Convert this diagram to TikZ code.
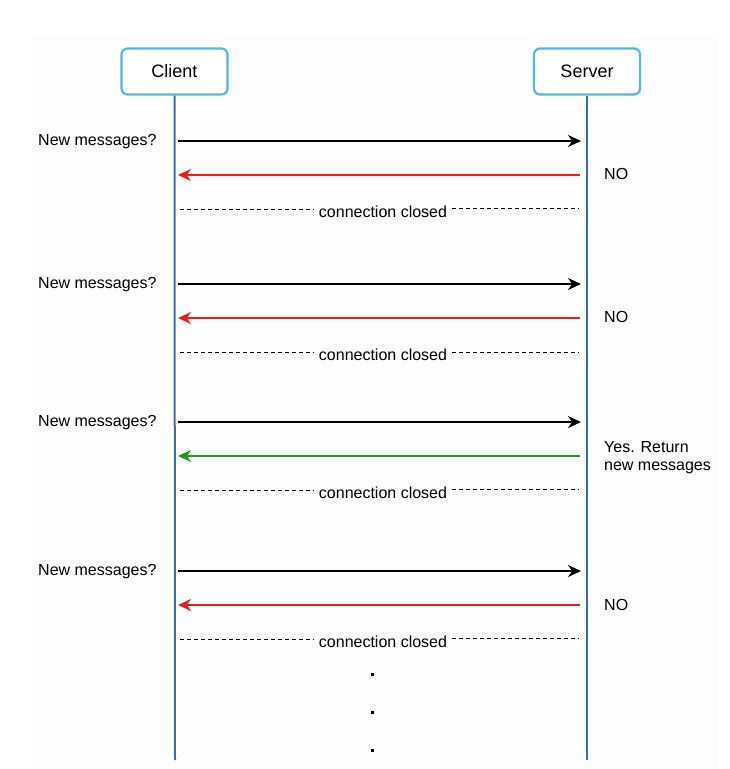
\documentclass[tikz,border=0pt]{standalone}
\usepackage{fontspec}
\setmainfont{Liberation Sans}
\usetikzlibrary{arrows.meta}
\definecolor{lifeblue}{HTML}{3A6EA5}
\definecolor{boxblue}{HTML}{52B9D8}
\definecolor{redline}{HTML}{EE1C1C}
\definecolor{greenline}{HTML}{1E9A1E}
\definecolor{bgpanel}{HTML}{FDFDFD}
\tikzset{
  actor/.style={draw=boxblue, line width=2.2pt, rounded corners=6pt, fill=white,
    minimum width=106pt, minimum height=46pt, inner sep=0pt, font=\fontsize{18}{20}\selectfont},
  life/.style={draw=lifeblue, line width=2pt},
  req/.style={draw=black, line width=2.2pt, -{Stealth[length=13pt,width=12pt]}},
  noresp/.style={draw=redline, line width=2.5pt, -{Stealth[length=13pt,width=12pt]}},
  yesresp/.style={draw=greenline, line width=2.3pt, -{Stealth[length=13pt,width=12pt]}},
  closed/.style={draw=black, line width=0.8pt, dash pattern=on 4pt off 3pt},
  lbl/.style={font=\fontsize{16}{18}\selectfont, inner sep=0pt},
  cclbl/.style={font=\fontsize{16}{18}\selectfont, inner sep=5pt},
  dotmark/.style={fill=black, minimum size=3pt, inner sep=0pt}
}
\begin{document}
\begin{tikzpicture}[x=1pt,y=-1pt]
\useasboundingbox (0,0) rectangle (730,769);
\fill[bgpanel] (30,36) rectangle (718,769);

\node[actor] (client) at (174.5,71.5) {Client};
\node[actor] (server) at (587,71.5) {Server};
\coordinate (cend) at (175,760);
\coordinate (send) at (587,760);
\draw[life] (client.south) -- (cend);
\draw[life] (server.south) -- (send);

% round 1
\coordinate (c1q) at (178,141); \coordinate (s1q) at (581,141);
\coordinate (c1r) at (178,175); \coordinate (s1r) at (580,175);
\coordinate (c1d) at (180,209); \coordinate (s1d) at (579,208);
\node[lbl, anchor=west] (q1) at (38,142) {New messages?};
\node[lbl, anchor=west] (a1) at (604,174) {NO};
\node[cclbl] (cc1) at (383,212) {connection closed};
\draw[req] (c1q) -- (s1q);
\draw[noresp] (s1r) -- (c1r);
\draw[closed] (c1d) -- (cc1.west |- c1d);
\draw[closed] (cc1.east |- s1d) -- (s1d);

% round 2
\coordinate (c2q) at (178,284); \coordinate (s2q) at (581,284);
\coordinate (c2r) at (178,318); \coordinate (s2r) at (580,318);
\coordinate (c2d) at (180,352); \coordinate (s2d) at (579,352);
\node[lbl, anchor=west] (q2) at (38,285) {New messages?};
\node[lbl, anchor=west] (a2) at (604,317) {NO};
\node[cclbl] (cc2) at (383,355) {connection closed};
\draw[req] (c2q) -- (s2q);
\draw[noresp] (s2r) -- (c2r);
\draw[closed] (c2d) -- (cc2.west |- c2d);
\draw[closed] (cc2.east |- s2d) -- (s2d);

% round 3
\coordinate (c3q) at (178,422); \coordinate (s3q) at (581,422);
\coordinate (c3r) at (178,456); \coordinate (s3r) at (580,456);
\coordinate (c3d) at (180,490); \coordinate (s3d) at (579,489);
\node[lbl, anchor=west] (q3) at (38,423) {New messages?};
\node[lbl, anchor=west, align=left] (a3) at (604,457.5) {Yes. Return\\new messages};
\node[cclbl] (cc3) at (383,493) {connection closed};
\draw[req] (c3q) -- (s3q);
\draw[yesresp] (s3r) -- (c3r);
\draw[closed] (c3d) -- (cc3.west |- c3d);
\draw[closed] (cc3.east |- s3d) -- (s3d);

% round 4
\coordinate (c4q) at (178,571); \coordinate (s4q) at (581,571);
\coordinate (c4r) at (178,605); \coordinate (s4r) at (580,605);
\coordinate (c4d) at (180,639); \coordinate (s4d) at (579,638);
\node[lbl, anchor=west] (q4) at (38,572) {New messages?};
\node[lbl, anchor=west] (a4) at (604,605) {NO};
\node[cclbl] (cc4) at (383,642) {connection closed};
\draw[req] (c4q) -- (s4q);
\draw[noresp] (s4r) -- (c4r);
\draw[closed] (c4d) -- (cc4.west |- c4d);
\draw[closed] (cc4.east |- s4d) -- (s4d);

% continuation dots
\node[dotmark] (d1) at (372,674) {};
\node[dotmark] (d2) at (372,712) {};
\node[dotmark] (d3) at (372,750) {};
\end{tikzpicture}
\end{document}
